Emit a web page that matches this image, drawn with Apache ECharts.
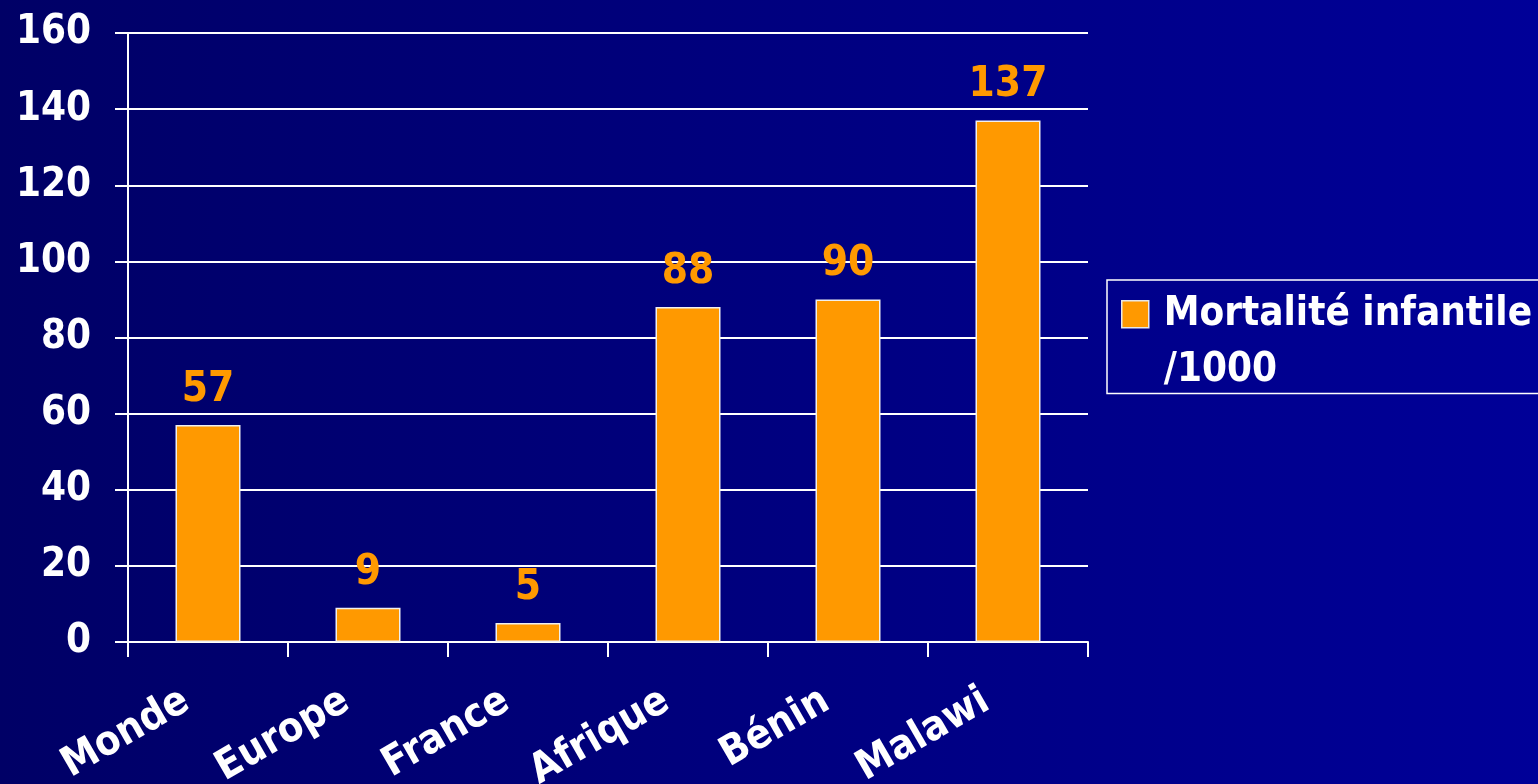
<!DOCTYPE html>
<html>
<head>
<meta charset="utf-8">
<script src="https://cdn.jsdelivr.net/npm/echarts@6/dist/echarts.min.js"></script>
<style>
html, body { margin: 0; padding: 0; }
#chart { width: 1538px; height: 784px; }
</style>
</head>
<body>
<div id="chart"></div>
<script>
// données
var categories = ['Monde', 'Europe', 'France', 'Afrique', 'Bénin', 'Malawi'];
var mortalite = [57, 9, 5, 88, 90, 137];
var yMin = 0, yMax = 160, yStep = 20;
var seriesName = 'Mortalité infantile /1000';
var legendLines = ['Mortalité infantile', '/1000'];

var FONT = "'DejaVu Sans Condensed', 'DejaVu Sans', sans-serif";
var ORANGE = '#FF9900';

var chart = echarts.init(document.getElementById('chart'));

var option = {
    animation: false,
    backgroundColor: {
        type: 'linear', x: 0, y: 0, x2: 1, y2: 0,
        colorStops: [
            { offset: 0, color: '#000066' },
            { offset: 1, color: '#000098' }
        ]
    },
    grid: { left: 128, right: 450, top: 33, bottom: 142, outerBoundsMode: 'none', containLabel: false },
    legend: {
        left: 1107,
        top: 280,
        padding: [0, 40, 0, 14],
        borderColor: '#ffffff',
        borderWidth: 1.5,
        itemWidth: 27,
        itemHeight: 112,
        // carré en haut de l'item, aligné sur la première ligne
        icon: 'path://M0,0M27,112M0,20H27V47H0Z',
        itemStyle: { borderColor: '#e8e8e8', borderWidth: 1.5 },
        formatter: function () {
            return '{a|' + legendLines[0] + '}\n{b|' + legendLines[1] + '}';
        },
        textStyle: {
            color: '#fff', fontFamily: FONT, fontWeight: 'bold', fontSize: 40,
            padding: [0, 0, 0, 10],
            rich: {
                a: { color: '#fff', fontFamily: FONT, fontWeight: 'bold', fontSize: 40, lineHeight: 68 },
                b: { color: '#fff', fontFamily: FONT, fontWeight: 'bold', fontSize: 40, lineHeight: 44 }
            }
        }
    },
    xAxis: {
        type: 'category',
        data: categories,
        boundaryGap: true,
        axisLine: { lineStyle: { color: '#fff', width: 2 } },
        axisTick: { show: true, length: 15, lineStyle: { color: '#fff', width: 2 } },
        axisLabel: {
            interval: 0, rotate: 30, margin: 44, padding: [0, 25, 0, 0],
            color: '#fff', fontFamily: FONT, fontWeight: 'bold', fontSize: 41
        }
    },
    yAxis: {
        type: 'value',
        min: yMin, max: yMax, interval: yStep,
        axisLine: { show: true, lineStyle: { color: '#fff', width: 2 } },
        axisTick: { show: true, length: 13, lineStyle: { color: '#fff', width: 2 } },
        splitLine: { lineStyle: { color: '#fff', width: 2 } },
        axisLabel: {
            margin: 37,
            color: '#fff', fontFamily: FONT, fontWeight: 'bold', fontSize: 40
        }
    },
    series: [{
        name: seriesName,
        type: 'bar',
        data: mortalite,
        barWidth: 65,
        itemStyle: { color: ORANGE, borderColor: '#f0f0f0', borderWidth: 1.5 },
        label: {
            show: true, position: 'top', distance: 14,
            color: ORANGE, fontFamily: FONT, fontWeight: 'bold', fontSize: 42
        }
    }]
};

chart.setOption(option);
</script>
</body>
</html>
